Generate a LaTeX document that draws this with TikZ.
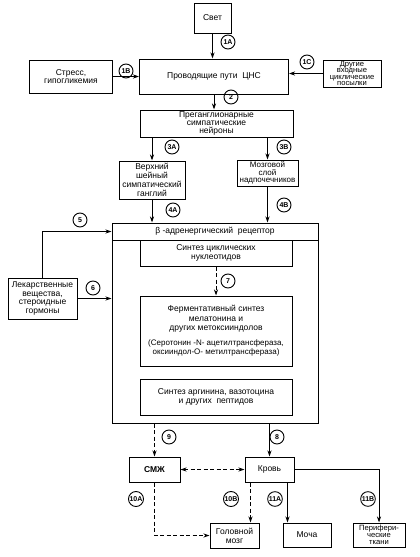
\documentclass[tikz,border=0pt]{standalone}
\usepackage{fontspec}
\setmainfont{Liberation Sans}
\usetikzlibrary{arrows.meta}

\begin{document}
\begin{tikzpicture}[
  x=1pt, y=-1pt,
  box/.style={rectangle, draw, line width=1pt, align=center, inner sep=1pt,
    font=\fontsize{8.5}{8.8}\selectfont},
  num/.style={circle, draw, line width=0.9pt, inner sep=0.5pt, minimum size=14pt,
    font=\fontsize{7}{7}\selectfont\bfseries},
  arr/.style={-{Stealth[length=6pt,width=4pt]}, line width=1pt},
  darr/.style={arr, dash pattern=on 4pt off 2.5pt}
]
\useasboundingbox (0,0) rectangle (420,557);

% Input level
\node[box, minimum width=37pt, minimum height=30pt] (svet) at (212.5,18) {Свет};
\node[box, minimum width=149pt, minimum height=35pt] (cns) at (214,76.5) {Проводящие пути\ \ ЦНС};
\node[box, minimum width=83pt, minimum height=33pt] (stress) at (71,76.5) {Стресс,\\гипогликемия};
\node[box, minimum width=58pt, minimum height=27pt, inner sep=0pt,
  font=\fontsize{7.6}{6.4}\selectfont] (other) at (352,73.5) {Другие\\входные\\циклические\\посылки};

% Sympathetic pathway
\node[box, minimum width=153pt, minimum height=27pt,
  font=\fontsize{8.5}{7.6}\selectfont] (pregang) at (216.5,123.5) {Преганглионарные\\симпатические\\нейроны};
\node[box, minimum width=66pt, minimum height=38pt] (ganglion) at (152,180) {Верхний\\шейный\\симпатический\\ганглий};
\node[box, minimum width=61pt, minimum height=26pt, inner sep=0pt,
  font=\fontsize{8}{7.8}\selectfont] (medulla) at (267.5,173) {Мозговой\\слой\\надпочечников};

% Pinealocyte
\node[box, minimum width=206pt, minimum height=200pt] (cell) at (215,323) {};
\node[box, minimum width=206pt, minimum height=17pt] (receptor) at (215,231.5) {β -адренергический\ \ рецептор};
\node[box, minimum width=152pt, minimum height=26pt] (cyclic) at (216,253) {Синтез циклических\\нуклеотидов};
\node[box, minimum width=152pt, minimum height=70pt,
  font=\fontsize{8.5}{9.5}\selectfont] (melatonin) at (216,331) {Ферментативный синтез\\мелатонина и\\других метоксииндолов\\[5pt]
  {\fontsize{8}{9.5}\selectfont (Серотонин -N- ацетилтрансфераза,}\\
  {\fontsize{8}{9.5}\selectfont оксииндол-О- метилтрансфераза)}};
\node[box, minimum width=152pt, minimum height=36pt] (peptides) at (216,397) {Синтез аргинина, вазотоцина\\и других\ \ пептидов};
\node[box, minimum width=69pt, minimum height=41pt, inner sep=0pt] (drugs) at (42.5,298.5) {Лекарственные\\вещества,\\стероидные\\гормоны};

% Outputs
\node[box, minimum width=51pt, minimum height=25pt] (csf) at (154.5,469.5) {\bfseries СМЖ};
\node[box, minimum width=49pt, minimum height=25pt] (blood) at (269.5,469.5) {Кровь};
\node[box, minimum width=49pt, minimum height=25pt] (brain) at (234.5,535.5) {Головной\\мозг};
\node[box, minimum width=48pt, minimum height=24pt] (urine) at (307,535) {Моча};
\node[box, minimum width=52pt, minimum height=24pt,
  font=\fontsize{7.6}{7}\selectfont] (periph) at (379,535) {Перифери-\\ческие\\ткани};

% Connectors
\draw[arr] (svet.south) -- (svet.south |- cns.north);
\draw[arr] (stress.east) -- (stress.east -| cns.west);
\draw[arr] (other.west) -- (other.west -| cns.east);
\draw[arr] (cns.south) -- (cns.south |- pregang.north);
\draw[arr] (ganglion.north |- pregang.south) -- (ganglion.north);
\draw[arr] (medulla.north |- pregang.south) -- (medulla.north);
\draw[arr] (ganglion.south) -- (ganglion.south |- cell.north);
\draw[arr] (medulla.south) -- (medulla.south |- cell.north);
\draw[arr] (drugs.north) |- (receptor.west);
\draw[arr] (drugs.east) -- (drugs.east -| cell.west);
\draw[darr] (cyclic.south) -- (melatonin.north);
\draw[darr] (csf.north |- cell.south) -- (csf.north);
\draw[arr] (blood.north |- cell.south) -- (blood.north);
\draw[darr, {Stealth[length=6pt,width=4pt]}-{Stealth[length=6pt,width=4pt]}] (csf.east) -- (blood.west);
\draw[darr] (csf.south) |- (brain.west);
\draw[darr] ([xshift=6pt]blood.south west) -- ([xshift=6pt]blood.south west |- brain.north);
\draw[arr] ([xshift=-7pt]blood.south east) -- ([xshift=-7pt]blood.south east |- urine.north);
\draw[arr] (blood.east) -| (periph.north);

% Step numbers
\node[num] (n1a) at (228,42) {1A};
\node[num] (n1b) at (126,71) {1B};
\node[num] (n1c) at (307,62) {1C};
\node[num] (n2) at (231,97) {2};
\node[num] (n3a) at (172,147) {3A};
\node[num] (n3b) at (284,147) {3B};
\node[num] (n4a) at (173,210) {4A};
\node[num] (n4b) at (284,205) {4B};
\node[num] (n5) at (80,220) {5};
\node[num] (n6) at (93,288) {6};
\node[num] (n7) at (228,281) {7};
\node[num] (n8) at (277,437) {8};
\node[num] (n9) at (169,437) {9};
\node[num] (n10a) at (136,499) {10A};
\node[num] (n10b) at (231,499) {10B};
\node[num] (n11a) at (275,499) {11A};
\node[num] (n11b) at (368,499) {11B};

\end{tikzpicture}
\end{document}
